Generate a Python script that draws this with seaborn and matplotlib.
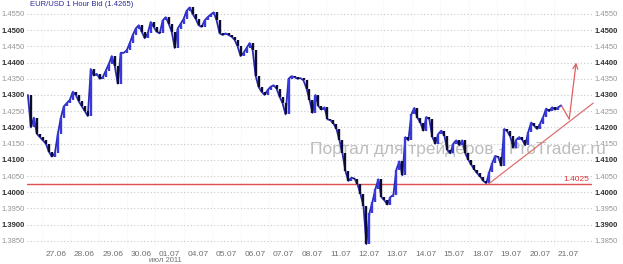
import numpy as np
import pandas as pd
import matplotlib
matplotlib.use("Agg")
import matplotlib.pyplot as plt
import seaborn as sns

# ---- data (EUR/USD hourly bid, sampled ~every 2.5 hours) ----
prices = [
    1.4300, 1.4200, 1.4230, 1.4180, 1.4170, 1.4160, 1.4150, 1.4125, 1.4110, 1.4120,
    1.4180, 1.4230, 1.4265, 1.4275, 1.4285, 1.4310, 1.4300, 1.4280, 1.4265, 1.4250,
    1.4235, 1.4380, 1.4360, 1.4365, 1.4350, 1.4355, 1.4375, 1.4395, 1.4420, 1.4390,
    1.4335, 1.4430, 1.4430, 1.4438, 1.4460, 1.4485, 1.4505, 1.4515, 1.4495, 1.4475,
    1.4490, 1.4525, 1.4510, 1.4495, 1.4490, 1.4530, 1.4540, 1.4520, 1.4495, 1.4445,
    1.4505, 1.4520, 1.4535, 1.4560, 1.4570, 1.4550, 1.4535, 1.4515, 1.4510, 1.4530,
    1.4540, 1.4548, 1.4555, 1.4530, 1.4490, 1.4485, 1.4490, 1.4485, 1.4480, 1.4470,
    1.4450, 1.4420, 1.4430, 1.4445, 1.4460, 1.4440, 1.4360, 1.4325, 1.4310, 1.4300,
    1.4315, 1.4325, 1.4330, 1.4320, 1.4295, 1.4275, 1.4240, 1.4350, 1.4358, 1.4355,
    1.4350, 1.4352, 1.4345, 1.4320, 1.4285, 1.4245, 1.4300, 1.4265, 1.4255, 1.4262,
    1.4225, 1.4222, 1.4212, 1.4195, 1.4160, 1.4120, 1.4065, 1.4035, 1.4045, 1.4042,
    1.4025, 1.3995, 1.3958, 1.3840, 1.3935, 1.3970, 1.4010, 1.4040, 1.3985, 1.3975,
    1.3962, 1.3985, 1.3992, 1.4070, 1.4095, 1.4052, 1.4170, 1.4160, 1.4240, 1.4260,
    1.4230, 1.4215, 1.4190, 1.4232, 1.4225, 1.4170, 1.4150, 1.4180, 1.4190, 1.4175,
    1.4130, 1.4120, 1.4150, 1.4160, 1.4145, 1.4160, 1.4120, 1.4100, 1.4085, 1.4070,
    1.4058, 1.4048, 1.4035, 1.4028, 1.4062, 1.4090, 1.4112, 1.4108, 1.4082, 1.4195,
    1.4188, 1.4172, 1.4138, 1.4162, 1.4170, 1.4162, 1.4145, 1.4185, 1.4215, 1.4205,
    1.4195, 1.4212, 1.4232, 1.4258, 1.4250, 1.4262, 1.4255, 1.4262, 1.4268,
]
day_labels = ['27.06', '28.06', '29.06', '30.06', '01.07', '04.07', '05.07', '06.07',
              '07.07', '08.07', '11.07', '12.07', '13.07', '14.07', '15.07', '18.07',
              '19.07', '20.07', '21.07']
y_ticks = [1.3850, 1.3900, 1.3950, 1.4000, 1.4050, 1.4100, 1.4150, 1.4200, 1.4250,
           1.4300, 1.4350, 1.4400, 1.4450, 1.4500, 1.4550]
support_level = 1.4025
trend_start = (153.7, 1.4025)
trend_end = (188.7, 1.4275)
arrow_path = [(178.0, 1.4268), (180.7, 1.4226), (183.0, 1.4400)]
title = "EUR/USD 1 Hour Bid (1.4265)"
watermark = "Портал для трейдеров - ProTrader.ru"
month_label = "июл 2011"

# ---- figure ----
sns.set_theme(style="white")
plt.rcParams['font.family'] = ['Liberation Sans', 'DejaVu Sans']

fig = plt.figure(figsize=(6.23, 2.64), dpi=100)
ax = fig.add_axes([27/623, 16/264, 565/623, 248/264])
ax.set_facecolor('white')

df = pd.DataFrame({'t': np.arange(len(prices)), 'price': prices})

# watermark (behind the price line)
ax.text(0.50, 0.40, watermark, transform=ax.transAxes, fontsize=12.5,
        color='#bdbdbd', ha='left', va='center', zorder=1, clip_on=False)

# price line
sns.lineplot(data=df, x='t', y='price', color='#2a2ab0', linewidth=1.3, ax=ax, zorder=3)
prev = np.r_[df['price'].iloc[0], df['price'].values[:-1]]
up = df['price'].values >= prev
ax.vlines(df['t'][up], prev[up], df['price'][up], color='#3838e0', linewidth=1.7, zorder=4)
ax.vlines(df['t'][~up], df['price'][~up], prev[~up], color='#0c0c30', linewidth=1.7, zorder=4)

# support line and label
ax.axhline(support_level, color='#e05050', linewidth=1.0, zorder=2)
ax.text(0.995, support_level + 0.0004, f"{support_level:.4f}", transform=ax.get_yaxis_transform(),
        color='#e03030', fontsize=6, ha='right', va='bottom', zorder=5)

# trend line
ax.plot([trend_start[0], trend_end[0]], [trend_start[1], trend_end[1]],
        color='#e07070', linewidth=0.9, zorder=5, clip_on=False)
# forecast arrow
ax.plot([arrow_path[0][0], arrow_path[1][0]], [arrow_path[0][1], arrow_path[1][1]],
        color='#e06060', linewidth=0.9, zorder=5)
ax.annotate('', xy=arrow_path[2], xytext=arrow_path[1],
            arrowprops=dict(arrowstyle='->', color='#e06060', lw=0.9,
                            shrinkA=0, shrinkB=0, mutation_scale=9), zorder=5)

# axes limits
ax.set_xlim(-0.3, 188.3)
ax.set_ylim(1.3828, 1.4593)

# x ticks: days
xt = [9.33 + 9.5 * k for k in range(len(day_labels))]
ax.set_xticks(xt)
ax.set_xticklabels(day_labels, fontsize=6, color='#707070')
ax.set_xlabel('')
ax.set_ylabel('')

# y ticks both sides
ax.set_yticks(y_ticks)
ax.set_yticklabels([f"{v:.4f}" for v in y_ticks])
ax.tick_params(axis='y', which='both', length=0, labelleft=True, labelright=True, pad=1)
ax.tick_params(axis='x', length=0, pad=2)
for t in ax.yaxis.get_major_ticks():
    v = t.get_loc()
    bold = round(v * 10000) % 100 == 0
    for lbl in (t.label1, t.label2):
        lbl.set_color('#303030' if bold else '#959595')
        lbl.set_fontweight('bold' if bold else 'normal')
        lbl.set_fontsize(5.5)
ax.yaxis.set_tick_params(pad=1.5)

# grid
ax.grid(axis='y', color='#c8c8c8', linestyle=(0, (1, 2)), linewidth=0.8)
for x in xt:
    ax.axvline(x - 4.75, color='#ececec', linestyle=(0, (1, 2)), linewidth=0.6, zorder=0)

for s in ax.spines.values():
    s.set_visible(False)

ax.text(0.005, 0.995, title, transform=ax.transAxes, fontsize=5.5, color='#2a2a9a',
        ha='left', va='top', zorder=6)
fig.text(165/623, 0.0, month_label, fontsize=5.5, color='#707070', ha='center', va='bottom')

fig.savefig('out.png', dpi=100, facecolor='white')
